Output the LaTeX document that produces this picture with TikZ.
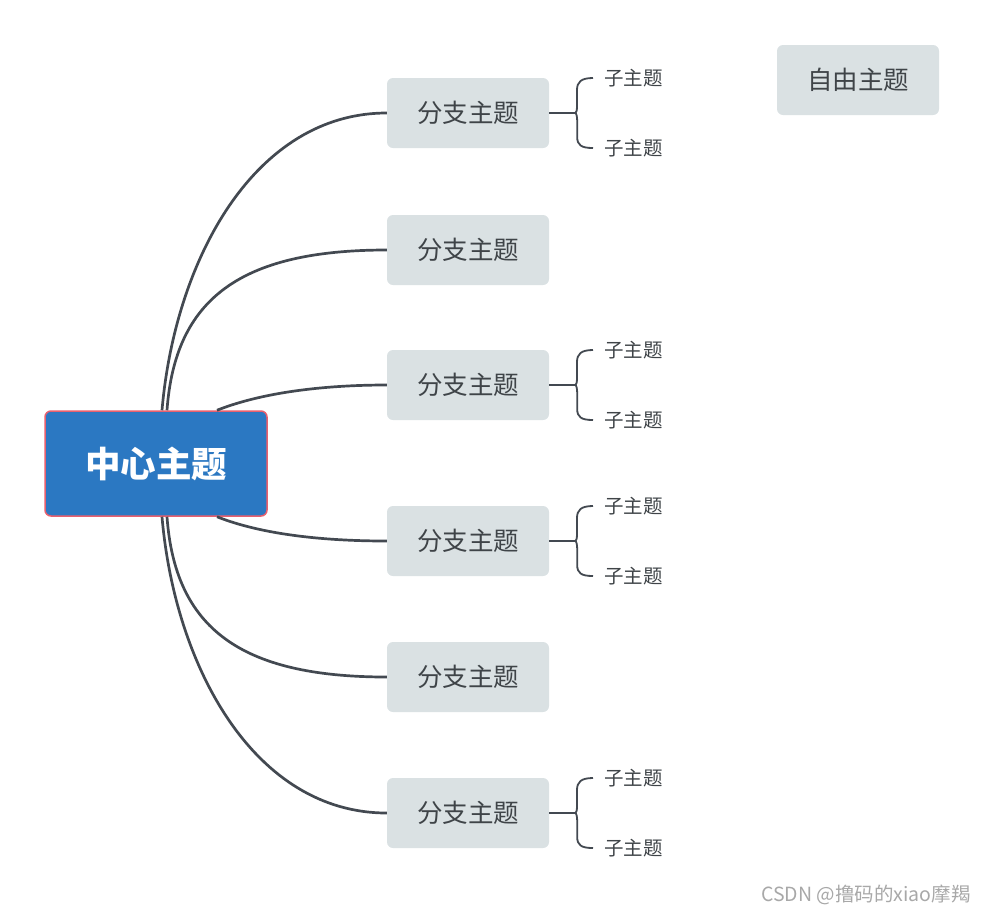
\documentclass[tikz,border=0pt]{standalone}
\usepackage{fontspec}
\setmainfont{Noto Sans CJK SC}
\usetikzlibrary{calc}
\definecolor{central}{HTML}{2B78C2}
\definecolor{centralborder}{HTML}{E8606E}
\definecolor{branchfill}{HTML}{DAE1E3}
\definecolor{linecol}{HTML}{434951}
\definecolor{textcol}{HTML}{3F4448}
\definecolor{wmcol}{HTML}{A8A8A8}
\begin{document}
\begin{tikzpicture}[x=1pt,y=-1pt,
  centralbox/.style={draw=centralborder,line width=1.5pt,fill=central,rounded corners=6pt,
    minimum width=222pt,minimum height=105pt,inner sep=0pt,text=white,
    font=\fontsize{35.5}{40}\selectfont\bfseries},
  branchbox/.style={fill=branchfill,rounded corners=6pt,minimum width=162pt,minimum height=70pt,
    inner sep=0pt,text=textcol,font=\fontsize{25.5}{30}\selectfont},
  subtopic/.style={anchor=west,inner sep=0pt,text=textcol,font=\fontsize{19.5}{23}\selectfont},
  conn/.style={draw=linecol,line width=2.7pt},
  bconn/.style={draw=linecol,line width=1.8pt},
  watermark/.style={inner sep=0pt,text=wmcol,font=\fontsize{19.5}{22}\selectfont}]
\useasboundingbox (0,0) rectangle (984,914);
% central topic
\node[centralbox] (c) at (156,463.5) {\raisebox{-2pt}{中心主题}};
% branches
\node[branchbox] (b1) at (468,113) {\raisebox{-2pt}{分支主题}};
\node[branchbox] (b2) at (468,250) {\raisebox{-2pt}{分支主题}};
\node[branchbox] (b3) at (468,385) {\raisebox{-2pt}{分支主题}};
\node[branchbox] (b4) at (468,541) {\raisebox{-2pt}{分支主题}};
\node[branchbox] (b5) at (468,677) {\raisebox{-2pt}{分支主题}};
\node[branchbox] (b6) at (468,813) {\raisebox{-2pt}{分支主题}};
% free topic
\node[branchbox] (f) at (858,80) {\raisebox{-2pt}{自由主题}};
% curves
\draw[conn] ([xshift=6pt]c.north) .. controls +(13,-151) and +(-132,0) .. (b1.west);
\draw[conn] ([xshift=11pt]c.north) .. controls +(8,-111) and +(-147,0) .. (b2.west);
\draw[conn] ([xshift=61pt]c.north) .. controls +(43,-17) and +(-67,0) .. (b3.west);
\draw[conn] ([xshift=61pt]c.south) .. controls +(43,17) and +(-67,0) .. (b4.west);
\draw[conn] ([xshift=11pt]c.south) .. controls +(8,111) and +(-147,0) .. (b5.west);
\draw[conn] ([xshift=6pt]c.south) .. controls +(13,151) and +(-132,0) .. (b6.west);
% subtopics with braces
\foreach \b/\cy in {1/113,3/385,4/541,6/813}{
  \node[subtopic] (s\b a) at (604,\cy-35) {子主题};
  \node[subtopic] (s\b b) at (604,\cy+35) {子主题};
  \coordinate (k\b) at ([xshift=26pt]b\b.east);
  \draw[bconn] (b\b.east) -- (k\b);
  \draw[bconn] ([xshift=-11pt]s\b a.west) .. controls +(-12,0) and +(0,-8) .. ++(-16,12)
     -- ++(0,16) .. controls +(0,5) and +(1,0) .. (k\b)
     .. controls +(1,0) and +(0,-5) .. ++(2,8)
     -- ++(0,16) .. controls +(0,8) and +(-12,0) .. ([xshift=-11pt]s\b b.west);
}
% watermark
\node[watermark] (wm) at (866,895) {CSDN @撸码的xiao摩羯};
\end{tikzpicture}
\end{document}
